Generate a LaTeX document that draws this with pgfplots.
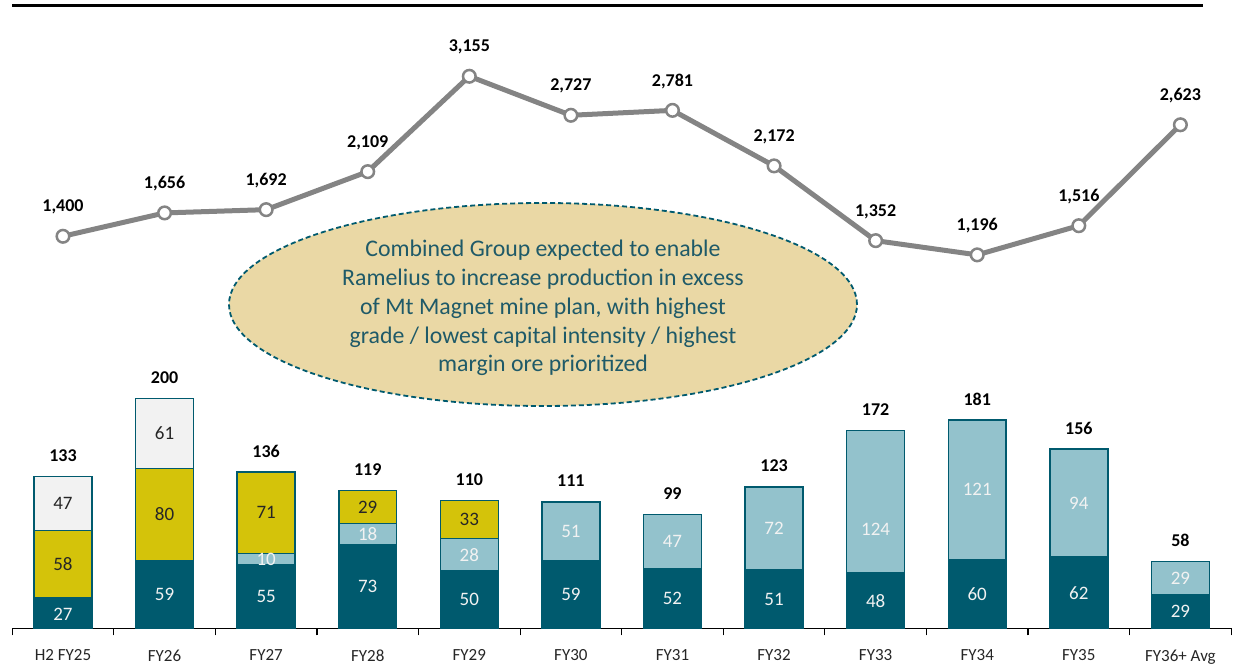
\documentclass[border=0pt]{standalone}
\usepackage{pgfplots}
\pgfplotsset{compat=1.18}
\usepackage{pgfplotstable}
\usepackage{fontspec}
\setmainfont{Carlito}
\definecolor{cteal}{HTML}{005A6E}
\definecolor{clblue}{HTML}{93C2CC}
\definecolor{cyel}{HTML}{D4C30A}
\definecolor{cgrey}{HTML}{F2F2F2}
\definecolor{cell}{HTML}{EAD8A5}
\definecolor{ctext}{HTML}{1F5A68}
\definecolor{cline}{HTML}{848484}

\pgfplotsset{base/.style={at={(12,37)}, anchor=south west, scale only axis,
  width=1219pt, height=627pt, xmin=-0.5, xmax=11.5, clip=false}}

% segment values
\pgfplotstableread{
x teal lblue yel grey
0 27 0 58 47
1 59 0 80 61
2 55 10 71 0
3 73 18 29 0
4 50 28 33 0
5 59 51 0 0
6 52 47 0 0
7 51 72 0 0
8 48 124 0 0
9 60 121 0 0
10 62 94 0 0
11 29 29 0 0
}\bars

% label positions (centre of each segment) and texts
\pgfplotstableread{
x y l
0 12.5 27
1 29.5 59
2 27.5 55
3 36.5 73
4 25 50
5 29.5 59
6 26 52
7 25.5 51
8 24 48
9 30 60
10 31 62
11 14.5 29
2 60 10
3 82 18
4 64 28
5 84.5 51
6 75.5 47
7 87 72
8 86 124
9 120.5 121
10 109 94
11 43.5 29
}\whitelabels

\pgfplotstableread{
x y l
0 56 58
1 99 80
2 100.5 71
3 105.5 29
4 94.5 33
0 108.5 47
1 169.5 61
}\blacklabels

\pgfplotstableread{
x y l
0 132 133
1 200 200
2 136 136
3 120 119
4 111 110
5 110 111
6 99 99
7 123 123
8 172 172
9 181 181
10 156 156
11 58 58
}\totals

\pgfplotstableread{
x y l
0 1400 {1,400}
1 1656 {1,656}
2 1692 {1,692}
3 2109 {2,109}
4 3155 {3,155}
5 2727 {2,727}
6 2781 {2,781}
7 2172 {2,172}
8 1352 {1,352}
9 1196 {1,196}
10 1516 {1,516}
11 2623 {2,623}
}\linedata

\begin{document}
\begin{tikzpicture}[x=1pt,y=1pt]
\path (0,0) rectangle (1241,671);
\draw[black, line width=3pt] (12,665) -- (1203,665);

\draw[cteal, line width=1.8pt, dash pattern=on 5pt off 3pt, fill=cell] (543,366.5) ellipse [x radius=314, y radius=101.5];
\node[align=center, text=ctext, font=\fontsize{23.8}{28.8}\selectfont] at (543,363)
  {Combined Group expected to enable\\Ramelius to increase production in excess\\of Mt Magnet mine plan, with highest\\grade / lowest capital intensity / highest\\margin ore prioritized};

\begin{axis}[base, ymin=0, ymax=545, ybar stacked, bar width=0.57,
  axis y line=none, axis x line*=bottom,
  axis line style={black, line width=1.3pt, -},
  xtick={0,...,11},
  xticklabels={H2 FY25, FY26, FY27, FY28, FY29, FY30, FY31, FY32, FY33, FY34, FY35, FY36+ Avg},
  major tick length=0pt, tick align=outside,
  extra x ticks={-0.5,0.5,...,11.5}, extra x tick labels={},
  extra x tick style={major tick length=7pt, tick style={black, line width=1.2pt}},
  xticklabel style={font=\fontsize{17}{20}\selectfont, text=black!85, yshift=-18pt},
  every axis plot/.append style={draw=cteal, line width=1.5pt}]
\addplot[fill=cteal] table[x=x, y=teal] {\bars};
\addplot[fill=clblue] table[x=x, y=lblue] {\bars};
\addplot[fill=cyel] table[x=x, y=yel] {\bars};
\addplot[fill=cgrey] table[x=x, y=grey] {\bars};
\end{axis}

\begin{axis}[base, ymin=0, ymax=545, axis lines=none]
\addplot[only marks, mark size=0pt, mark options={draw=none, fill=none},
  nodes near coords, point meta=explicit symbolic,
  nodes near coords align=center,
  every node near coord/.append style={anchor=center, text=white!95!black, font=\fontsize{19}{22}\selectfont}]
  table[x=x, y=y, meta=l] {\whitelabels};
\addplot[only marks, mark size=0pt, mark options={draw=none, fill=none},
  nodes near coords, point meta=explicit symbolic,
  nodes near coords align=center,
  every node near coord/.append style={anchor=center, text=black!85, font=\fontsize{19}{22}\selectfont}]
  table[x=x, y=y, meta=l] {\blacklabels};
\addplot[only marks, mark size=0pt, mark options={draw=none, fill=none},
  nodes near coords, point meta=explicit symbolic,
  nodes near coords align=center,
  every node near coord/.append style={anchor=center, yshift=21pt, text=black, font=\bfseries\fontsize{18}{21}\selectfont}]
  table[x=x, y=y, meta=l] {\totals};
\end{axis}

\begin{axis}[base, ymin=-2998, ymax=3879, axis lines=none]
\addplot[cline, line width=5pt, mark=*, mark size=6.3pt,
  mark options={fill=white, draw=cline, line width=2.5pt},
  nodes near coords, point meta=explicit symbolic,
  nodes near coords align=center,
  every node near coord/.append style={anchor=center, yshift=29pt, text=black, font=\bfseries\fontsize{18}{21}\selectfont}]
  table[x=x, y=y, meta=l] {\linedata};
\end{axis}
\path (0,0) rectangle (1241,671);
\end{tikzpicture}
\end{document}
